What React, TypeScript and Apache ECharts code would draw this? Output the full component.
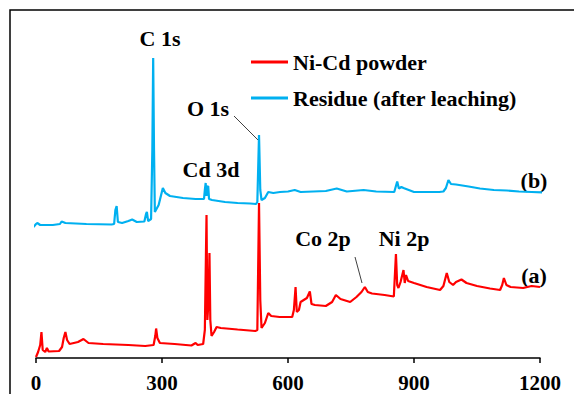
import React, { useEffect, useRef } from "react";
import * as echarts from "echarts";

const xTicks = [0, 300, 600, 900, 1200];

// Binding energy (eV) and intensity (a.u.)
const powderBE = [0, 5, 10, 13, 16, 22, 26, 30, 55, 62, 66, 70, 74, 80, 100, 113, 125, 160, 220, 260, 280, 284, 286, 289, 295, 330, 370, 380, 385, 398, 402, 406, 408, 411, 413, 415, 418, 424, 430, 440, 480, 522, 527, 531, 534, 537, 545, 553, 560, 580, 610, 614, 618, 621, 626, 630, 645, 652, 656, 664, 690, 705, 714, 725, 748, 763, 775, 783, 790, 800, 830, 852, 857, 860, 863, 868, 875, 878, 881, 886, 900, 930, 962, 970, 978, 984, 993, 1000, 1013, 1025, 1050, 1081, 1105, 1110, 1114, 1120, 1130, 1160, 1180, 1200];
const powderI = [1, 6, 13, 26, 8, 6, 10, 6.5, 7, 11, 20, 26, 18, 14, 16, 19, 15, 14, 13, 12, 13, 22, 29.5, 20, 15, 14, 12.5, 15, 13, 14, 28, 143, 38, 58, 105, 38, 22, 26, 31, 30, 28.5, 27, 28, 155, 58, 30, 35, 45, 42, 41, 41, 48, 71, 46, 48, 56, 60, 66.5, 54, 53, 52, 56, 63, 59, 56, 61, 66, 71, 66, 64.5, 63, 61.5, 104, 73, 70, 76, 88, 75, 83, 77, 75, 71, 68, 72, 85, 76, 73, 76, 78.5, 75, 72, 69.5, 68, 73, 80, 73, 71, 70, 72, 71];

const residueBE = [-6, 0, 3, 10, 40, 57, 61, 70, 120, 180, 186, 189, 192, 195, 205, 220, 229, 240, 258, 262, 264, 267, 274, 277, 279, 281, 283, 292, 302, 308, 319, 350, 380, 400, 402, 404, 406, 408, 410, 412, 419, 450, 480, 510, 524, 527, 531, 534, 537, 545, 553, 565, 581, 600, 616, 630, 660, 690, 716, 740, 780, 810, 853, 860, 864, 870, 875, 900, 960, 970, 976, 982, 988, 1000, 1030, 1057, 1090, 1121, 1150, 1180, 1212];
const residueI = [131, 134, 135, 133, 133, 134, 136.5, 135, 134, 133.5, 134, 148, 152, 136, 135, 137, 138.5, 136, 136.5, 144, 146, 137, 139, 208, 300, 208, 146, 153, 170, 165, 162, 160, 159, 159, 168, 175, 162, 171, 172, 159, 158, 156, 155, 154.5, 154, 156, 223, 168, 158, 160, 166, 165, 166, 166.5, 168, 166, 166.5, 167, 169.5, 166.5, 168, 166.5, 166, 176.5, 169.5, 171, 170, 166, 166, 166.5, 170, 178, 174, 173.5, 171.5, 169.5, 168, 167.5, 166.5, 166, 165.5];

const seriesNames = ["Ni-Cd powder", "Residue (after leaching)"];
const seriesColors = ["#FF0000", "#00B0F0"];

const FONT = "'Liberation Serif', 'Times New Roman', serif";

export default function App() {
  const ref = useRef<HTMLDivElement>(null);
  useEffect(() => {
    if (!ref.current) return;
    const chart = echarts.init(ref.current, undefined, { renderer: "svg" });
    const pair = (xs: number[], ys: number[]) => xs.map((x, i) => [x, ys[i]]);
    const txt = (text: string, x: number, y: number) => ({
      type: "text",
      x,
      y,
      style: {
        text,
        fill: "#000",
        font: `bold 22px ${FONT}`,
        textAlign: "center",
        textVerticalAlign: "middle",
      },
    });
    chart.setOption({
      animation: false,
      backgroundColor: "#fff",
      grid: { left: 36, right: 34, top: 10, bottom: 36 },
      xAxis: {
        type: "value",
        min: xTicks[0],
        max: xTicks[xTicks.length - 1],
        interval: 300,
        axisLine: { show: true, lineStyle: { color: "#000", width: 1.5 } },
        axisTick: { show: true, length: 5, lineStyle: { color: "#000", width: 1.5 } },
        axisLabel: {
          color: "#000",
          fontFamily: FONT,
          fontWeight: "bold",
          fontSize: 21,
          margin: 14,
          formatter: (v: number) => String(v),
        },
        splitLine: { show: false },
      },
      yAxis: {
        type: "value",
        min: 0,
        max: 348,
        show: false,
        splitLine: { show: false },
      },
      legend: {
        left: 246,
        top: 46,
        orient: "vertical",
        itemWidth: 37,
        itemHeight: 3,
        itemGap: 14,
        icon: "rect",
        textStyle: {
          color: "#000",
          fontFamily: FONT,
          fontWeight: "bold",
          fontSize: 22,
          lineHeight: 22,
        },
        data: seriesNames,
      },
      series: [
        {
          name: seriesNames[0],
          type: "line",
          data: pair(powderBE, powderI),
          showSymbol: false,
          clip: false,
          lineStyle: { color: seriesColors[0], width: 2.2 },
          itemStyle: { color: seriesColors[0] },
        },
        {
          name: seriesNames[1],
          type: "line",
          data: pair(residueBE, residueI),
          showSymbol: false,
          clip: false,
          lineStyle: { color: seriesColors[1], width: 2.2 },
          itemStyle: { color: seriesColors[1] },
        },
      ],
      graphic: [
        {
          type: "rect",
          shape: { x: 10, y: 10, width: 700, height: 500 },
          style: { fill: "none", stroke: "#000", lineWidth: 1.5 },
          silent: true,
        },
        txt("C 1s", 160, 38),
        txt("O 1s", 208, 108),
        txt("Cd 3d", 211, 169),
        txt("(b)", 534, 180),
        txt("Co 2p", 323, 238),
        txt("Ni 2p", 404, 238),
        txt("(a)", 534, 275),
        {
          type: "line",
          shape: { x1: 234, y1: 116, x2: 258, y2: 140 },
          style: { stroke: "#404040", lineWidth: 1 },
        },
        {
          type: "line",
          shape: { x1: 355, y1: 257, x2: 362, y2: 283 },
          style: { stroke: "#404040", lineWidth: 1 },
        },
      ],
    });
    return () => chart.dispose();
  }, []);
  return (
    <div
      ref={ref}
      style={{ position: "absolute", left: 0, top: 0, width: 574, height: 394 }}
    />
  );
}
